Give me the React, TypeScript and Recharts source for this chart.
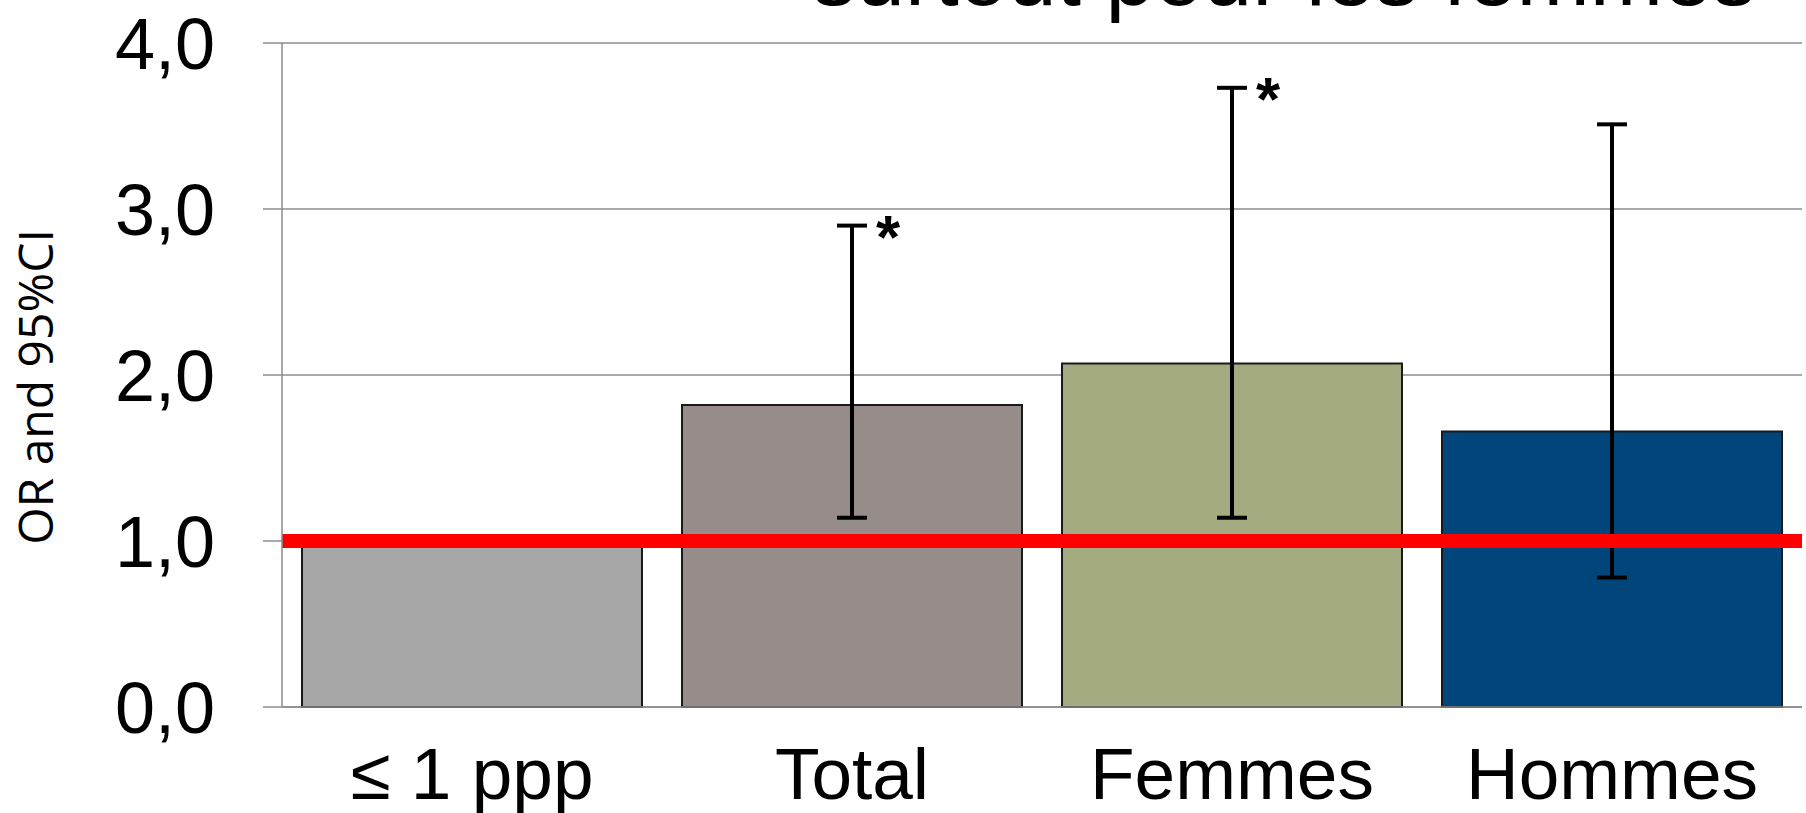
import React from 'react'
import {
  ComposedChart, Bar, Cell, ErrorBar, Scatter, XAxis, YAxis, CartesianGrid, ReferenceLine,
} from 'recharts'

const categories = ['≤ 1 ppp', 'Total', 'Femmes', 'Hommes']
const orValues = [1.0, 1.82, 2.07, 1.66]
const ciLow: (number | null)[] = [null, 1.14, 1.14, 0.78]
const ciHigh: (number | null)[] = [null, 2.9, 3.73, 3.51]
const significant = [false, true, true, false]
const yTicks = [0, 1, 2, 3, 4]
const barColors = ['#a6a6a6', '#968c8a', '#a4ab81', '#00467a']
const refValue = 1

const chartData = categories.map((name, i) => {
  const lo = ciLow[i]
  const hi = ciHigh[i]
  return {
    name,
    or: orValues[i],
    err: lo == null || hi == null ? undefined : [orValues[i] - lo, hi - orValues[i]],
    star: significant[i] ? hi : null,
  }
})

const FONT = '"Liberation Sans", Arial, sans-serif'
const GRID = '#8c8c8c'

const fmt = (v: number) => v.toFixed(1).replace('.', ',')

function Star(props: any) {
  const { cx, cy, payload } = props
  if (payload == null || payload.star == null || cx == null || cy == null) return null
  return (
    <text x={cx + 36} y={cy + 32} textAnchor="middle" fontFamily={FONT} fontWeight="bold" fontSize={62} fill="#000">
      *
    </text>
  )
}

function YLabel(props: any) {
  const vb = props.viewBox || { x: 0, y: 43, width: 282, height: 664 }
  const x = vb.x + 53
  const y = vb.y + vb.height / 2 + 12
  return (
    <text x={x} y={y} transform={`rotate(-90, ${x}, ${y})`} textAnchor="middle"
      fontFamily='"Open Sans", "Noto Sans", sans-serif' fontSize={48} fill="#000">
      OR and 95%CI
    </text>
  )
}

export default function App() {
  return (
    <div style={{ position: 'absolute', left: 0, top: 0, width: 1806, height: 813, background: '#fff', overflow: 'hidden' }}>
      <svg width={1806} height={40} style={{ position: 'absolute', left: 0, top: 0 }}>
        <text x={812} y={5} fontFamily={FONT} fontSize={88} fill="#000">surtout pour les femmes</text>
      </svg>
      <ComposedChart width={1806} height={813} data={chartData} margin={{ top: 43, right: 4, bottom: 0, left: 0 }}>
        <CartesianGrid vertical={false} stroke={GRID} strokeWidth={1.5} />
        <XAxis
          dataKey="name"
          height={106}
          axisLine={{ stroke: GRID, strokeWidth: 1.5 }}
          tickLine={false}
          tickSize={0}
          tickMargin={40}
          interval={0}
          tick={{ fontSize: 73, fill: '#000', fontFamily: FONT }}
        />
        <YAxis
          width={282}
          domain={[0, 4]}
          ticks={yTicks}
          interval={0}
          tickFormatter={fmt}
          axisLine={{ stroke: GRID, strokeWidth: 1.5 }}
          tickLine={{ stroke: GRID, strokeWidth: 1.5 }}
          tickSize={19}
          tickMargin={48}
          tick={{ fontSize: 72, fill: '#000', fontFamily: FONT }}
          label={<YLabel />}
        />
        <Bar dataKey="or" barSize={340} isAnimationActive={false}>
          {chartData.map((_, i) => (
            <Cell key={`c-${i}`} fill={barColors[i]} stroke="#1a1a1a" strokeWidth={2} />
          ))}
          <ErrorBar dataKey="err" direction="y" width={15} strokeWidth={4} stroke="#000" />
        </Bar>
        <ReferenceLine y={refValue} stroke="#ff0000" strokeWidth={14} />
        <Scatter dataKey="star" shape={<Star />} isAnimationActive={false} />
      </ComposedChart>
    </div>
  )
}
